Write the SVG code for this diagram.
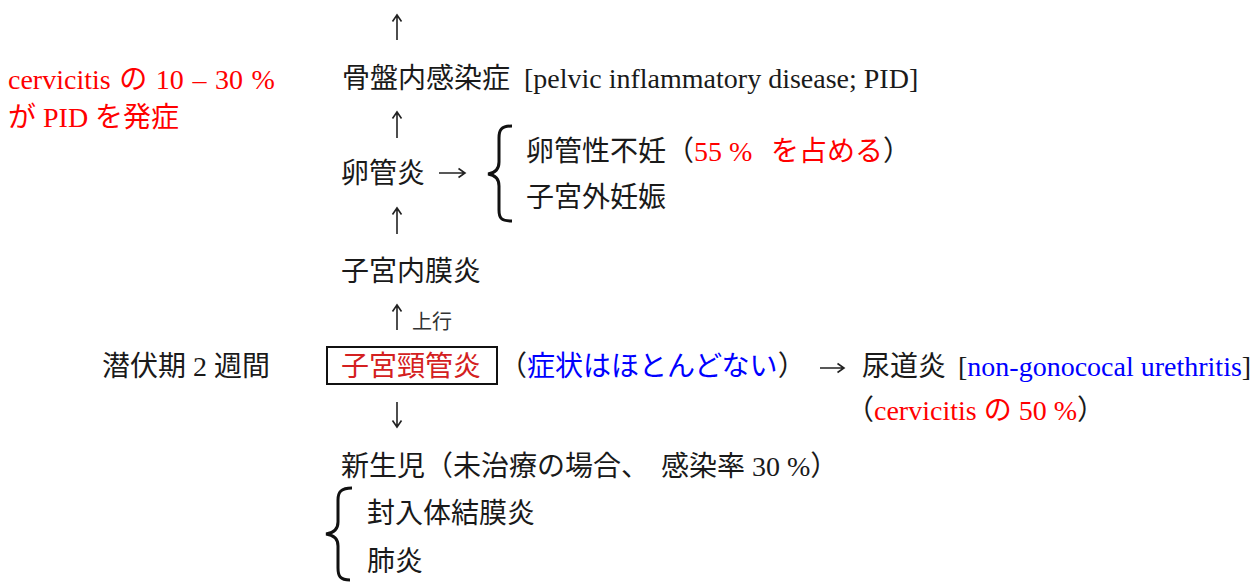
<svg xmlns="http://www.w3.org/2000/svg" width="1254" height="582" viewBox="0 0 1254 582">
<style>
text{font-family:"Liberation Serif","Noto Sans CJK JP",serif;font-size:28px;fill:#1a1a1a}
.r{fill:#ff0000}
.b{fill:#0000ff}
.dr{fill:#d42020}
.sm{font-size:20px;fill:#333}
.ar{fill:none;stroke:#222;stroke-width:1.6}
.br{fill:none;stroke:#111;stroke-width:3}
</style>
<rect width="1254" height="582" fill="#fff"/>
<g id="connectors">
<path class="ar" d="M397,40V15M392.5,21.5L397,15L401.5,21.5"/>
<path class="ar" d="M397,138V112M392.5,118.5L397,112L401.5,118.5"/>
<path class="ar" d="M397,234V208M392.5,214.5L397,208L401.5,214.5"/>
<path class="ar" d="M397,330V305M392.5,311.5L397,305L401.5,311.5"/>
<path class="ar" d="M397,402V427M392.5,420.5L397,427L401.5,420.5"/>
<path class="ar" d="M439,173H465M458.5,168.5L465,173L458.5,177.5"/>
<path class="ar" d="M820,368H844M837.5,363.5L844,368L837.5,372.5"/>
</g>
<g id="pid">
<text x="342" y="88">骨盤内感染症 <tspan x="524">[pelvic inflammatory disease; PID]</tspan></text>
</g>
<g id="note-pid">
<text class="r" x="8" y="89" word-spacing="1.6">cervicitis の 10 – 30 %</text>
<text class="r" x="8" y="127">が PID を発症</text>
</g>
<g id="salpingitis">
<text x="341" y="183">卵管炎</text>
</g>
<g id="salp-results">
<path class="br" d="M512,126C501,126 499,130 499,138V162C499,169 495,173 488,174C495,175 499,179 499,186V210C499,218 501,221 512,221"/>
<text x="526" y="161">卵管性不妊（<tspan class="r">55 %</tspan><tspan class="r" x="771">を占める</tspan>）</text>
<text x="526" y="207">子宮外妊娠</text>
</g>
<g id="endometritis">
<text x="341" y="281">子宮内膜炎</text>
<text class="sm" x="412" y="329">上行</text>
</g>
<g id="incubation">
<text x="102" y="376">潜伏期 2 週間</text>
</g>
<g id="cervicitis">
<rect x="327" y="347" width="170" height="37" fill="none" stroke="#111" stroke-width="2"/>
<text class="dr" x="341" y="376">子宮頸管炎</text>
<text x="499" y="376">（<tspan class="b">症状はほとんどない</tspan>）</text>
</g>
<g id="urethritis">
<text x="862" y="376">尿道炎 <tspan x="958">[<tspan class="b">non-gonococal urethritis</tspan>]</tspan></text>
<text x="846" y="420">（<tspan class="r">cervicitis の 50 %</tspan>）</text>
</g>
<g id="neonate">
<text x="341" y="476">新生児（未治療の場合、 <tspan x="661">感染率 30 %）</tspan></text>
</g>
<g id="neonate-results">
<path class="br" d="M352,488C341,488 338,492 338,500V522C338,529 334,533 326,534C334,535 338,539 338,546V568C338,576 340,580 350,580"/>
<text x="367" y="523">封入体結膜炎</text>
<text x="367" y="571">肺炎</text>
</g>
</svg>
